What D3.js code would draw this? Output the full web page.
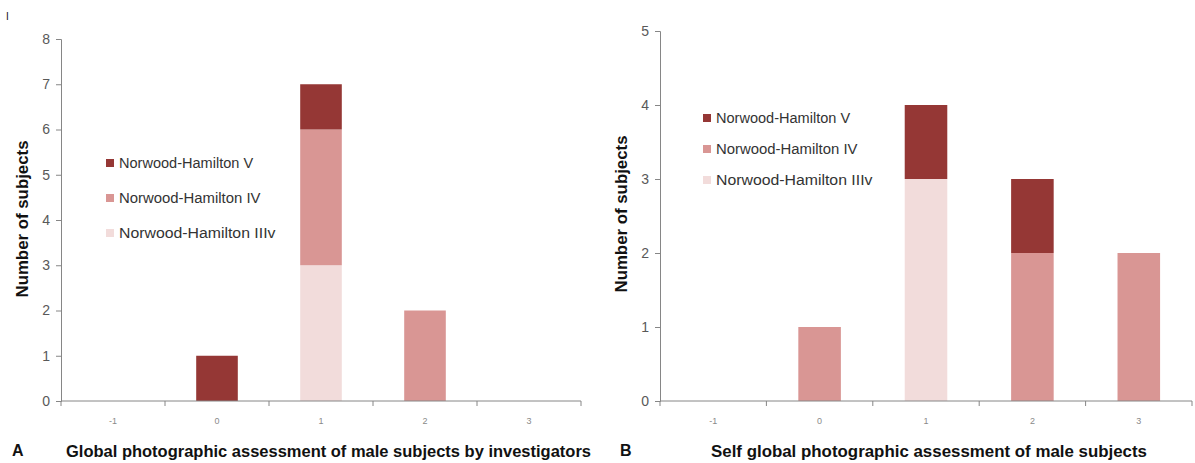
<!DOCTYPE html>
<html><head><meta charset="utf-8">
<script src="https://cdn.jsdelivr.net/npm/d3@7"></script>
<style>body{margin:0;background:#fff}svg{display:block;font-family:"Liberation Sans",Arial,sans-serif}</style>
</head><body>
<svg id="c" width="1195" height="463"></svg>
<script>
const categories = ["-1", "0", "1", "2", "3"];
const seriesNames = ["Norwood-Hamilton IIIv", "Norwood-Hamilton IV", "Norwood-Hamilton V"];
const legendOrder = ["Norwood-Hamilton V", "Norwood-Hamilton IV", "Norwood-Hamilton IIIv"];
const colors = ["#F2DCDB", "#D99694", "#953735"];
// Panel A: investigators
const aIIIv = [0, 0, 3, 0, 0];
const aIV   = [0, 0, 3, 2, 0];
const aV    = [0, 1, 1, 0, 0];
const aTicks = [0, 1, 2, 3, 4, 5, 6, 7, 8];
// Panel B: self assessment
const bIIIv = [0, 0, 3, 0, 0];
const bIV   = [0, 1, 0, 2, 2];
const bV    = [0, 0, 1, 1, 0];
const bTicks = [0, 1, 2, 3, 4, 5];

const svg = d3.select("#c");
const color = d3.scaleOrdinal().domain(seriesNames).range(colors);

svg.append("text").attr("x", 6).attr("y", 20).attr("font-size", 10).attr("fill", "#111").text("I");

function panel(cfg) {
  const rows = categories.map((c, i) => ({cat: c,
    [seriesNames[0]]: cfg.s[0][i], [seriesNames[1]]: cfg.s[1][i], [seriesNames[2]]: cfg.s[2][i]}));
  const stacked = d3.stack().keys(seriesNames)(rows);
  const x = d3.scaleBand().domain(categories).range([cfg.x0, cfg.x1]).paddingInner(0.6).paddingOuter(0.3);
  const y = d3.scaleLinear().domain([0, d3.max(cfg.ticks)]).range([cfg.yb, cfg.yt]);
  const g = svg.append("g");

  g.selectAll("g.s").data(stacked).join("g").attr("fill", d => color(d.key))
    .selectAll("rect").data(d => d).join("rect")
    .attr("x", d => x(d.data.cat)).attr("width", x.bandwidth())
    .attr("y", d => y(d[1])).attr("height", d => y(d[0]) - y(d[1]));

  // y axis
  const ya = g.append("g").attr("transform", `translate(${cfg.x0},0)`)
    .call(d3.axisLeft(y).tickValues(cfg.ticks).tickFormat(d3.format("d")).tickSize(5).tickPadding(6));
  ya.select(".domain").attr("stroke", "#868686");
  ya.selectAll(".tick line").attr("stroke", "#868686");
  ya.selectAll(".tick text").attr("font-size", 14).attr("fill", "#595959")
    .attr("font-family", "'Liberation Sans',Arial,sans-serif");

  // x axis with boundary ticks
  const step = x.step();
  g.append("line").attr("x1", cfg.x0).attr("x2", cfg.x1).attr("y1", cfg.yb).attr("y2", cfg.yb).attr("stroke", "#868686");
  const bounds = categories.map(c => x(c) + x.bandwidth() / 2 - step / 2).concat([cfg.x1]);
  g.selectAll("line.xt").data(bounds).join("line").attr("class", "xt")
    .attr("x1", d => d).attr("x2", d => d).attr("y1", cfg.yb).attr("y2", cfg.yb + 5).attr("stroke", "#868686");
  g.selectAll("text.xl").data(categories).join("text").attr("class", "xl")
    .attr("x", d => x(d) + x.bandwidth() / 2).attr("y", cfg.yb + 23)
    .attr("text-anchor", "middle").attr("font-size", 9).attr("fill", "#8a8a8a").text(d => d);

  // y title
  g.append("text").attr("transform", `translate(${cfg.ytx},${cfg.yty}) rotate(-90)`)
    .attr("text-anchor", "middle").attr("font-weight", "bold").attr("font-size", 17)
    .attr("fill", "#111").attr("textLength", 157).attr("lengthAdjust", "spacingAndGlyphs")
    .text("Number of subjects");

  // panel letter and x title
  g.append("text").attr("x", cfg.lx).attr("y", 456).attr("font-weight", "bold").attr("font-size", 16)
    .attr("fill", "#111").text(cfg.letter);
  g.append("text").attr("x", cfg.tx0).attr("y", 457).attr("font-weight", "bold").attr("font-size", 17)
    .attr("fill", "#111").attr("textLength", cfg.tlen).attr("lengthAdjust", "spacingAndGlyphs").text(cfg.title);

  // legend
  const lg = g.selectAll("g.lg").data(legendOrder).join("g").attr("class", "lg")
    .attr("transform", (d, i) => `translate(${cfg.legx},${cfg.legy + i * cfg.legdy})`);
  lg.append("rect").attr("x", 0).attr("y", -4).attr("width", 8).attr("height", 8).attr("fill", d => color(d));
  lg.append("text").attr("x", 13).attr("y", 5).attr("font-size", 14).attr("fill", "#333")
    .attr("textLength", d => d.length * 7.45).attr("lengthAdjust", "spacingAndGlyphs").text(d => d);
}

panel({s: [aIIIv, aIV, aV], ticks: aTicks, x0: 61, x1: 581, yb: 401, yt: 39,
  ytx: 28, yty: 219, lx: 12, letter: "A", tx0: 66, tlen: 525,
  title: "Global photographic assessment of male subjects by investigators",
  legx: 106, legy: 163, legdy: 35});
panel({s: [bIIIv, bIV, bV], ticks: bTicks, x0: 660, x1: 1192, yb: 401, yt: 31,
  ytx: 627, yty: 214, lx: 620, letter: "B", tx0: 711, tlen: 436,
  title: "Self global photographic assessment of male subjects",
  legx: 703, legy: 118, legdy: 31});
</script>
</body></html>
